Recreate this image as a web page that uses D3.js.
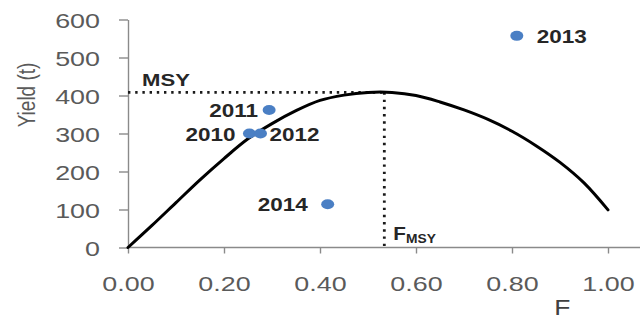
<!DOCTYPE html>
<html>
<head>
<meta charset="utf-8">
<script src="https://cdn.jsdelivr.net/npm/d3@7"></script>
<style>
  html, body { margin: 0; padding: 0; background: #fff; }
  svg { display: block; }
  text { font-family: "Liberation Sans", Arial, sans-serif; }
</style>
</head>
<body>
<svg id="chart" width="640" height="320"></svg>
<script>
// Yield curve as a function of fishing mortality F
const fValues     = [0, 0.05, 0.10, 0.15, 0.20, 0.25, 0.30, 0.35, 0.40, 0.45, 0.50, 0.55, 0.60, 0.65, 0.70, 0.75, 0.80, 0.85, 0.90, 0.95, 1.00];
const yieldValues = [0, 58, 118, 178, 234, 286, 326, 360, 387, 401, 408, 408, 400, 383, 362, 337, 306, 268, 224, 170, 99];

// Observed (F, yield) by year
const years    = ["2010", "2011", "2012", "2013", "2014"];
const obsF     = [0.253, 0.294, 0.276, 0.810, 0.416];
const obsYield = [300, 362, 300, 557, 114];

// Reference point
const fMsy = 0.534;
const msy  = 408;

// Axis ticks
const xTicks = [0, 0.2, 0.4, 0.6, 0.8, 1.0];
const yTicks = [0, 100, 200, 300, 400, 500, 600];

const width = 640, height = 320;
const margin = { left: 128, right: 32, top: 19.5, bottom: 72.5 };
const sx = 1.28; // horizontal text stretch

const svg = d3.select("#chart");

const x = d3.scaleLinear().domain([0, 1]).range([margin.left, width - margin.right]);
const y = d3.scaleLinear().domain([0, 600]).range([height - margin.bottom, margin.top]);

const axisColor = "#8a8a8a";
const tickColor = "#5a5a5a";

// Y axis
const yAxis = svg.append("g")
  .attr("transform", `translate(${x(0)},0)`)
  .call(d3.axisLeft(y).tickValues(yTicks).tickSizeInner(9).tickSizeOuter(0).tickFormat(d3.format("d")));
yAxis.select(".domain").attr("stroke", axisColor).attr("stroke-width", 1.4);
yAxis.selectAll(".tick line").attr("stroke", axisColor).attr("stroke-width", 1.4);
yAxis.selectAll(".tick text")
  .attr("x", null).attr("dy", null)
  .attr("transform", `translate(-28,7.5) scale(${sx},1)`)
  .attr("text-anchor", "end")
  .attr("fill", tickColor)
  .style("font-size", "21px")
  .style("font-family", "'Liberation Sans', Arial, sans-serif");

// X axis
const xAxis = svg.append("g")
  .attr("transform", `translate(0,${y(0)})`)
  .call(d3.axisBottom(x).tickValues(xTicks).tickSizeInner(6).tickSizeOuter(0).tickFormat(d3.format(".2f")));
xAxis.select(".domain").remove();
xAxis.append("line")
  .attr("x1", x(0)).attr("x2", width)
  .attr("y1", 0).attr("y2", 0)
  .attr("stroke", axisColor).attr("stroke-width", 1.4);
xAxis.selectAll(".tick line").attr("stroke", axisColor).attr("stroke-width", 1.4);
xAxis.selectAll(".tick text")
  .attr("y", null).attr("dy", null)
  .attr("transform", `translate(0,43) scale(${sx},1)`)
  .attr("text-anchor", "middle")
  .attr("fill", tickColor)
  .style("font-size", "21px")
  .style("font-family", "'Liberation Sans', Arial, sans-serif");

// Axis titles
svg.append("text")
  .attr("transform", `translate(35,95) scale(${sx},1) rotate(-90)`)
  .attr("text-anchor", "middle")
  .attr("fill", tickColor)
  .style("font-size", "19px")
  .text("Yield (t)");

svg.append("text")
  .attr("transform", `translate(${x(0.905)},315) scale(1.2,1)`)
  .attr("text-anchor", "middle")
  .attr("fill", "#404040")
  .style("font-size", "22px")
  .text("F");

// MSY reference lines
const refStyle = g => g.attr("stroke", "#1a1a1a").attr("stroke-width", 2.8)
  .attr("stroke-dasharray", "2.4,4.8").attr("fill", "none");
svg.append("line")
  .attr("x1", x(0)).attr("x2", x(fMsy))
  .attr("y1", y(msy)).attr("y2", y(msy))
  .call(refStyle);
svg.append("line")
  .attr("x1", x(fMsy)).attr("x2", x(fMsy))
  .attr("y1", y(msy)).attr("y2", y(0))
  .call(refStyle);

svg.append("text")
  .attr("transform", `translate(${x(0) + 14},${y(msy) - 6}) scale(1.3,1)`)
  .attr("fill", "#262626")
  .style("font-size", "17px")
  .style("font-weight", "bold")
  .text("MSY");

const fLabel = svg.append("text")
  .attr("transform", `translate(${x(fMsy) + 9},${y(0) - 8}) scale(1.15,1)`)
  .attr("fill", "#262626")
  .style("font-weight", "bold");
fLabel.append("tspan").style("font-size", "18px").text("F");
fLabel.append("tspan").attr("dy", 3).style("font-size", "12px").text("MSY");

// Yield curve
const line = d3.line()
  .x((d, i) => x(fValues[i]))
  .y(d => y(d))
  .curve(d3.curveCatmullRom.alpha(0.5));
svg.append("path")
  .datum(yieldValues)
  .attr("d", line)
  .attr("fill", "none")
  .attr("stroke", "#000")
  .attr("stroke-width", 3)
  .attr("stroke-linecap", "round");

// Observations
const obs = years.map((yr, i) => ({ year: yr, f: obsF[i], yld: obsYield[i] }));
svg.append("g").selectAll("ellipse")
  .data(obs)
  .join("ellipse")
  .attr("cx", d => x(d.f))
  .attr("cy", d => y(d.yld))
  .attr("rx", 6.5)
  .attr("ry", 5)
  .attr("fill", "#4a7fc4");

// Year labels: which side of the point and how far
const labelPlace = {
  "2010": { anchor: "end",   dx: -14 },
  "2011": { anchor: "end",   dx: -11 },
  "2012": { anchor: "start", dx: 9 },
  "2013": { anchor: "start", dx: 20 },
  "2014": { anchor: "end",   dx: -20 }
};
svg.append("g").selectAll("text")
  .data(obs)
  .join("text")
  .attr("transform", d => `translate(${x(d.f) + labelPlace[d.year].dx},${y(d.yld) + 7}) scale(1.25,1)`)
  .attr("text-anchor", d => labelPlace[d.year].anchor)
  .attr("fill", "#262626")
  .style("font-size", "18px")
  .style("font-weight", "bold")
  .text(d => d.year);
</script>
</body>
</html>
